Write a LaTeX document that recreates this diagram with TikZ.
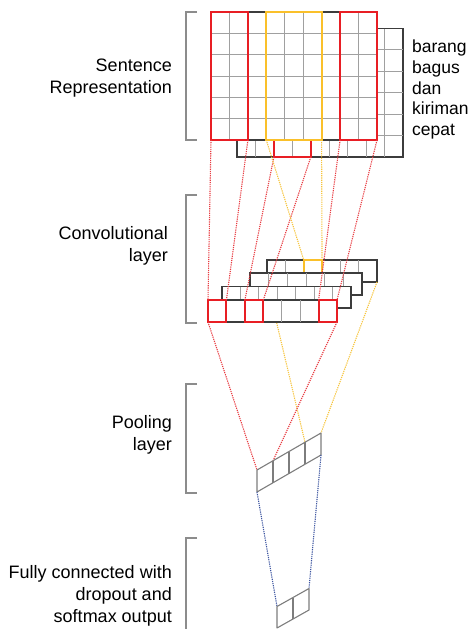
\documentclass[tikz,border=0pt]{standalone}
\usepackage{fontspec}
\setmainfont{Liberation Sans}
\usetikzlibrary{calc}

\definecolor{selred}{RGB}{232,30,36}
\definecolor{selgold}{RGB}{250,192,42}
\definecolor{cellgray}{RGB}{160,160,160}
\definecolor{framedark}{RGB}{60,60,60}
\definecolor{bracketgray}{RGB}{140,140,140}
\definecolor{dotred}{RGB}{232,60,66}
\definecolor{dotgold}{RGB}{246,196,60}
\definecolor{dotblue}{RGB}{60,84,160}
\definecolor{shapegray}{RGB}{125,125,125}

\tikzset{
  block/.style={draw=framedark, line width=1.1pt, fill=white, inner sep=0pt,
    outer sep=0pt, anchor=north west},
  redsel/.style={draw=selred, line width=2pt, inner sep=0pt, outer sep=0pt,
    anchor=north west},
  goldsel/.style={draw=selgold, line width=2pt, inner sep=0pt, outer sep=0pt,
    anchor=north west},
  cellline/.style={draw=cellgray, line width=0.9pt},
  link/.style={line width=1.1pt, dash pattern=on 1.2pt off 1pt},
  redlink/.style={link, draw=dotred},
  goldlink/.style={link, draw=dotgold},
  bluelink/.style={link, draw=dotblue},
  flatshape/.style={draw=shapegray, line width=1.1pt, line join=round},
  bracket/.style={draw=bracketgray, line width=1.3pt},
  layername/.style={anchor=east, align=right, inner sep=0pt,
    font=\fontsize{18}{22}\selectfont},
  word/.style={anchor=base west, inner sep=0pt, font=\fontsize{17.5}{21}\selectfont}
}

% inner cell lines of a block node
\newcommand\colsplit[4]{% node, column indices, column width, height
  \foreach \k in {#2} \draw[cellline] ($(#1.north west)+(\k*#3,0)$) -- ++(0,#4);}
\newcommand\rowsplit[4]{% node, row indices, row height, width
  \foreach \k in {#2} \draw[cellline] ($(#1.north west)+(0,\k*#3)$) -- ++(#4,0);}

\begin{document}
\begin{tikzpicture}[x=1pt, y=-1pt]
\useasboundingbox (0,0) rectangle (471,629);

% ---------- sentence matrix (two stacked embedding grids) ----------
\node[block, minimum width=166pt, minimum height=128.5pt] (back) at (237,28.5) {};
\colsplit{back}{1,...,8}{18.444}{128.5}
\rowsplit{back}{1,...,5}{21.417}{166}
\node[redsel, minimum width=36.9pt, minimum height=128.5pt] (backred) at (273.9,28.5) {};

\node[block, minimum width=166pt, minimum height=128pt] (front) at (211,12) {};
\colsplit{front}{1,...,8}{18.444}{128}
\rowsplit{front}{1,...,5}{21.333}{166}
\node[redsel, minimum width=36.9pt, minimum height=128pt] (frontredA) at (211,12) {};
\node[goldsel, minimum width=55.3pt, minimum height=128pt] (frontgold) at (266.3,12) {};
\node[redsel, minimum width=36.9pt, minimum height=128pt] (frontredB) at (340.1,12) {};

% words of the sentence
\node[word] (w1) at (412,52) {barang};
\node[word] (w2) at (412,73) {bagus};
\node[word] (w3) at (412,94) {dan};
\node[word] (w4) at (412,114.5) {kiriman};
\node[word] (w5) at (412,135.5) {cepat};

% ---------- pooling and output shapes (corner points) ----------
\coordinate (pTL) at (257,470);
\coordinate (pT1) at (273,460.8);
\coordinate (pT2) at (289,451.5);
\coordinate (pT3) at (305,442.3);
\coordinate (pTR) at (321,433);
\coordinate (pBL) at (257,492);
\coordinate (pB1) at (273,482.8);
\coordinate (pB2) at (289,473.5);
\coordinate (pB3) at (305,464.3);
\coordinate (pBR) at (321,455);

\coordinate (oTL) at (277,606.5);
\coordinate (oTM) at (293,597.5);
\coordinate (oTR) at (309,588.5);
\coordinate (oBL) at (277,628);
\coordinate (oBM) at (293,619);
\coordinate (oBR) at (309,610);

% ---------- convolutional feature maps ----------
\node[block, minimum width=110pt, minimum height=22pt] (map1) at (267,260) {};
\colsplit{map1}{1,...,5}{18.333}{22}
\node[goldsel, minimum width=18.33pt, minimum height=22pt] (map1gold) at (303.7,260) {};

% link from the rear map to the pooling layer, partly hidden by the maps in front
\draw[goldlink] (map1.south west) -- (pT3);

\node[block, minimum width=112pt, minimum height=22pt] (map2) at (250,273) {};
\colsplit{map2}{1,...,5}{18.667}{22}

\node[block, minimum width=129pt, minimum height=21.5pt] (map3) at (222,286.5) {};
\colsplit{map3}{1,...,6}{18.429}{21.5}

\node[block, minimum width=129pt, minimum height=22pt] (map4) at (208,300) {};
\colsplit{map4}{1,...,6}{18.429}{22}
\node[redsel, minimum width=18.43pt, minimum height=22pt] (map4a) at (208,300) {};
\node[redsel, minimum width=18.43pt, minimum height=22pt] (map4b) at (244.9,300) {};
\node[redsel, minimum width=18.43pt, minimum height=22pt] (map4c) at (318.6,300) {};

% ---------- filter windows to feature maps ----------
\draw[redlink] (frontredA.south west) -- (map4a.north west);
\draw[redlink] (frontredA.south east) -- (map4a.north east);
\draw[redlink] (backred.south west) -- (map4b.north west);
\draw[redlink] (backred.south east) -- (map4b.north east);
\draw[redlink] (frontredB.south west) -- (map4c.north west);
\draw[redlink] (frontredB.south east) -- (map4c.north east);
\draw[goldlink] (frontgold.south west) -- (map1gold.north west);
\draw[goldlink] (frontgold.south east) -- (map1gold.north east);

% ---------- feature maps to pooling ----------
\draw[redlink] (map4.south west) -- (pTL);
\draw[redlink] (map4.south east) -- (pT1);
\draw[goldlink] (map1.south east) -- (pTR);

% pooling layer
\draw[flatshape] (pTL) -- (pTR) -- (pBR) -- (pBL) -- cycle;
\draw[flatshape] (pT1) -- (pB1) (pT2) -- (pB2) (pT3) -- (pB3);

% pooling to output
\draw[bluelink] (pBL) -- (oTL);
\draw[bluelink] (pBR) -- (oTR);

% output layer
\draw[flatshape] (oTL) -- (oTR) -- (oBR) -- (oBL) -- cycle;
\draw[flatshape] (oTM) -- (oBM);

% ---------- brackets and layer names ----------
\draw[bracket] (197,12) -- (186,12) -- (186,140) -- (197,140);
\draw[bracket] (197,195) -- (186,195) -- (186,323) -- (197,323);
\draw[bracket] (197,384) -- (186,384) -- (186,493) -- (197,493);
\draw[bracket] (197,538) -- (186,538) -- (186,640);

\node[layername] (lsent) at (172,78.5) {Sentence\\Representation};
\node[layername] (lconv) at (168,245.5) {Convolutional\\layer};
\node[layername] (lpool) at (172,435) {Pooling\\layer};
\node[layername] (lfull) at (172,595.5) {Fully connected with\\dropout and\\softmax output};
\end{tikzpicture}
\end{document}
